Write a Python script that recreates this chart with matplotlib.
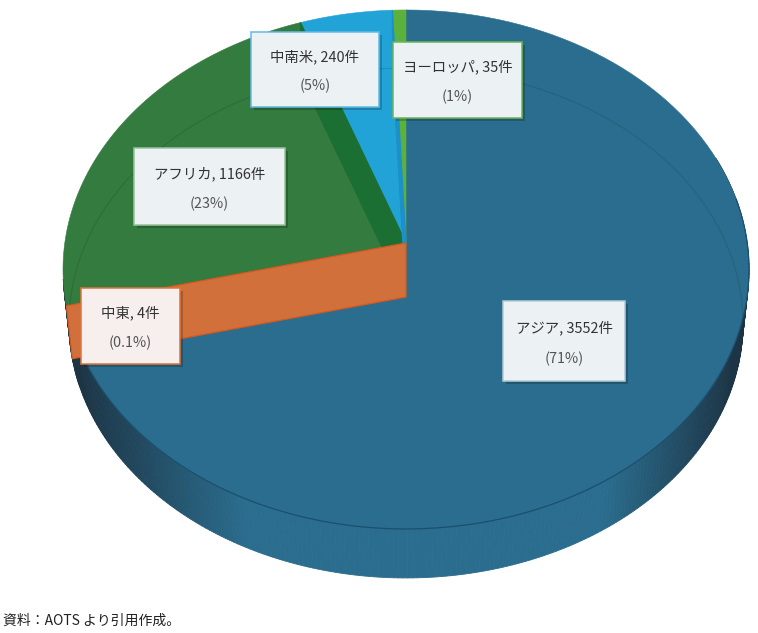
import numpy as np
import matplotlib
matplotlib.use("Agg")
import matplotlib.pyplot as plt
from matplotlib.patches import Polygon, Rectangle
import matplotlib.patheffects as pe

plt.rcParams['font.family'] = ['Noto Sans CJK JP', 'DejaVu Sans']

# clockwise from the top of the pie
regions = ['アジア', '中東', 'アフリカ', '中南米', 'ヨーロッパ']
counts = [3552, 4, 1166, 240, 35]
percents = ['71%', '0.1%', '23%', '5%', '1%']

top_colors = ['#2b6d8e', '#d1703a', '#337b3e', '#22a3d8', '#5cb03d']
wall_colors = ['#2b6d8e', '#d1703a', '#1c6f33', '#1c90c8', '#5cb03d']
border_colors = ['#b4cad6', '#e0743a', '#9cc0a0', '#62bce3', '#6cb654']

# label boxes in pixels: left, top, right, bottom
boxes = [(503, 301, 625, 381), (81, 288, 180, 364), (134, 148, 285, 225),
         (251, 32, 379, 107), (393, 42, 522, 118)]

# projection of the flat pie, fitted on the picture
CX, APEX_Y = 406, 243
K, A, C = 341.2, -232.0, 0.102
VANISH_Y = 3332
DEPTH = 0.98252


def top_point(theta):
    den = 1 + C * np.cos(theta)
    return CX + K * np.sin(theta) / den, (A * np.cos(theta) + APEX_Y) / den


def lower(x, y):
    return CX + (x - CX) * DEPTH, VANISH_Y - (VANISH_Y - y) * DEPTH


def arc(a, b, n=120):
    return np.linspace(a, b, n)


fig = plt.figure(figsize=(7.58, 6.33), dpi=100, facecolor='#fefffe')
ax = fig.add_axes([0, 0, 1, 1])
ax.set_xlim(0, 758)
ax.set_ylim(633, 0)
ax.axis('off')

# outer wall, dark at both ends of the visible part
wall_base = np.array(matplotlib.colors.to_rgb('#2b6d8e'))
wall_dark = np.array(matplotlib.colors.to_rgb('#1c3445'))
steps = arc(np.radians(70), np.radians(262), 260)
for t0, t1 in zip(steps[:-1], steps[1:]):
    x0, y0 = top_point(t0)
    x1, y1 = top_point(t1)
    xm = (x0 + x1) / 2
    if xm < CX:
        f = np.clip((xm - 75) / 170, 0, 1)
    else:
        f = np.clip((735 - xm) / 130, 0, 1)
    col = wall_dark + (wall_base - wall_dark) * f
    bx0, by0 = lower(x0, y0)
    bx1, by1 = lower(x1, y1)
    ax.add_patch(Polygon([(x0, y0), (x1, y1), (bx1, by1), (bx0, by0)],
                         closed=True, fc=col, ec=col, lw=0.6, zorder=1))

# top surfaces
angles = np.cumsum([0] + counts) / sum(counts) * 2 * np.pi
for i in range(len(counts)):
    xs, ys = top_point(arc(angles[i], angles[i + 1]))
    pts = [(CX, APEX_Y)] + list(zip(xs, ys))
    ax.add_patch(Polygon(pts, closed=True, fc=top_colors[i], ec=top_colors[i],
                         lw=0.4, zorder=2))

# front edge of the top surface
xs, ys = top_point(arc(np.radians(80), np.radians(255)))
ax.plot(xs, ys, color='#1b4f6d', lw=0.9, zorder=3)

# lower rim, shows through on the far side
xs, ys = lower(*top_point(arc(np.radians(-104), np.radians(100), 300)))
ax.plot(xs, ys, color='#0b2a20', lw=0.8, alpha=0.16, zorder=3)

# end wall of each slice
for i in [2, 3, 1]:
    x, y = top_point(angles[i + 1])
    bx, by = lower(x, y)
    ax_x, ax_y = lower(CX, APEX_Y)
    edge = '#d9581e' if i == 1 else wall_colors[i]
    ax.add_patch(Polygon([(CX, APEX_Y), (x, y), (bx, by), (ax_x, ax_y)], closed=True,
                         fc=wall_colors[i], ec=edge, lw=0.9, zorder=4))

# label boxes
shadow = [pe.SimplePatchShadow(offset=(2, -2), shadow_rgbFace='#000000', alpha=0.2), pe.Normal()]
for i in range(len(regions)):
    l, t, r, b = boxes[i]
    box_fc = '#f6efee' if i == 1 else '#ecf1f4'
    ax.add_patch(Rectangle((l, t), r - l, b - t, fc=box_fc, ec=border_colors[i], lw=1.1,
                           zorder=5, path_effects=shadow))
    xc = (l + r) / 2
    ax.text(xc, t + (b - t) * 0.33, f'{regions[i]}, {counts[i]}件', ha='center', va='center',
            fontsize=10.4, color='#333333', zorder=6)
    ax.text(xc, t + (b - t) * 0.72, f'({percents[i]})', ha='center', va='center',
            fontsize=10.4, color='#555555', zorder=6)

ax.text(3, 621, '資料：AOTS より引用作成。', ha='left', va='center', fontsize=10, color='#222222')

fig.savefig('out.png', dpi=100, facecolor=fig.get_facecolor())
